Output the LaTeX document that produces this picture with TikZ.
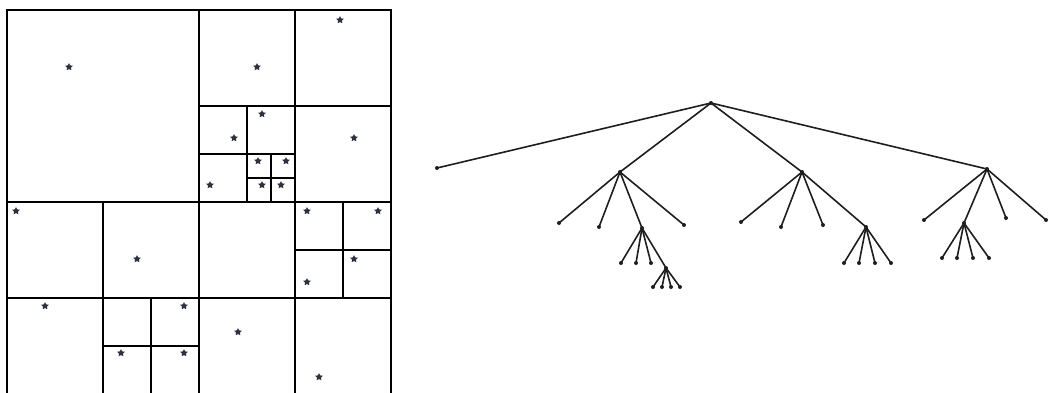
\documentclass[tikz,border=0pt]{standalone}
\usetikzlibrary{shapes.geometric}
\definecolor{stardark}{RGB}{45,48,62}
\definecolor{treeline}{RGB}{30,30,30}
\tikzset{
  qbox/.style={draw=black,line width=2.2pt},
  qline/.style={draw=black,line width=2.2pt},
  pt/.style={star,star points=5,star point ratio=2.0,fill=stardark,inner sep=0pt,minimum size=8pt},
  tn/.style={circle,fill=treeline,inner sep=0pt,minimum size=4pt},
  edge/.style={draw=treeline,line width=1.6pt},
}
\begin{document}
\begin{tikzpicture}[x=1pt,y=-1pt]
\useasboundingbox (0,0) rectangle (1049,392);
% ---------- quadtree ----------
\draw[qbox] (7,10) rectangle (391,394);
% root split
\draw[qline] (199,10) -- (199,394);
\draw[qline] (7,202) -- (391,202);
% top-right quadrant
\draw[qline] (295,10) -- (295,202);
\draw[qline] (199,106) -- (391,106);
\draw[qline] (247,106) -- (247,202);
\draw[qline] (199,154) -- (295,154);
\draw[qline] (271,154) -- (271,202);
\draw[qline] (247,178) -- (295,178);
% bottom-left quadrant
\draw[qline] (103,202) -- (103,394);
\draw[qline] (7,298) -- (199,298);
\draw[qline] (151,298) -- (151,394);
\draw[qline] (103,346) -- (199,346);
% bottom-right quadrant
\draw[qline] (295,202) -- (295,394);
\draw[qline] (199,298) -- (391,298);
\draw[qline] (343,202) -- (343,298);
\draw[qline] (295,250) -- (391,250);
% points
\node[pt] (p1) at (69,67) {};
\node[pt] (p2) at (257,67) {};
\node[pt] (p3) at (340,20) {};
\node[pt] (p4) at (234,138) {};
\node[pt] (p5) at (262,114) {};
\node[pt] (p6) at (210,185) {};
\node[pt] (p7) at (258,161) {};
\node[pt] (p8) at (286,161) {};
\node[pt] (p9) at (262,185) {};
\node[pt] (p10) at (281,185) {};
\node[pt] (p11) at (354,138) {};
\node[pt] (p12) at (16,211) {};
\node[pt] (p13) at (137,259) {};
\node[pt] (p14) at (45,306) {};
\node[pt] (p15) at (184,306) {};
\node[pt] (p16) at (121,353) {};
\node[pt] (p17) at (184,353) {};
\node[pt] (p18) at (307,211) {};
\node[pt] (p19) at (378,211) {};
\node[pt] (p20) at (354,259) {};
\node[pt] (p21) at (307,282) {};
\node[pt] (p22) at (238,332) {};
\node[pt] (p23) at (319,377) {};
% ---------- tree ----------
\node[tn] (r) at (711,103) {};
\node[tn] (a) at (437,168) {};
\node[tn] (b) at (620,172) {};
\node[tn] (c) at (802,172) {};
\node[tn] (d) at (987,169) {};
\node[tn] (b1) at (559,223) {};
\node[tn] (b2) at (599,227) {};
\node[tn] (b3) at (642,228) {};
\node[tn] (b4) at (684,225) {};
\node[tn] (b31) at (621,263) {};
\node[tn] (b32) at (636,263) {};
\node[tn] (b33) at (651,263) {};
\node[tn] (b34) at (666,268) {};
\node[tn] (b341) at (653,287) {};
\node[tn] (b342) at (662,287) {};
\node[tn] (b343) at (671,287) {};
\node[tn] (b344) at (680,287) {};
\node[tn] (c1) at (741,222) {};
\node[tn] (c2) at (781,227) {};
\node[tn] (c3) at (823,225) {};
\node[tn] (c4) at (866,227) {};
\node[tn] (c41) at (844,263) {};
\node[tn] (c42) at (859,263) {};
\node[tn] (c43) at (875,263) {};
\node[tn] (c44) at (891,263) {};
\node[tn] (d1) at (924,220) {};
\node[tn] (d2) at (964,223) {};
\node[tn] (d3) at (1006,218) {};
\node[tn] (d4) at (1046,220) {};
\node[tn] (d21) at (942,258) {};
\node[tn] (d22) at (957,258) {};
\node[tn] (d23) at (973,258) {};
\node[tn] (d24) at (989,258) {};
\foreach \s/\t in {r/a,r/b,r/c,r/d,
  b/b1,b/b2,b/b3,b/b4,b3/b31,b3/b32,b3/b33,b3/b34,
  b34/b341,b34/b342,b34/b343,b34/b344,
  c/c1,c/c2,c/c3,c/c4,c4/c41,c4/c42,c4/c43,c4/c44,
  d/d1,d/d2,d/d3,d/d4,d2/d21,d2/d22,d2/d23,d2/d24}
  \draw[edge] (\s.center) -- (\t.center);
\end{tikzpicture}
\end{document}
